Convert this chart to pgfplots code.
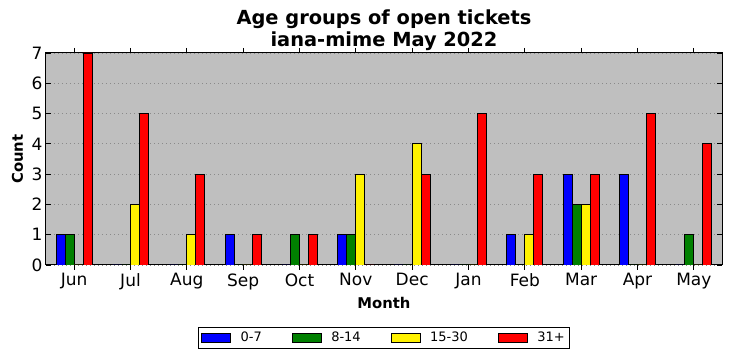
\documentclass[border=0pt]{standalone}
\usepackage{fontspec}
\setmainfont{DejaVu Sans}
\usepackage{pgfplots}
\pgfplotsset{compat=1.18}
\definecolor{bgc}{HTML}{BFBFBF}
\definecolor{gridc}{HTML}{8A8A8A}
\begin{document}
\begin{tikzpicture}[x=1pt,y=1pt]
\begin{axis}[
  at={(0,0)}, anchor=south west,
  width=676pt, height=212pt, scale only axis,
  xmin=-0.5, xmax=11.5, ymin=0, ymax=7,
  xtick={0,...,11},
  xticklabels={Jun,Jul,Aug,Sep,Oct,Nov,Dec,Jan,Feb,Mar,Apr,May},
  ytick={0,...,7},
  tick align=inside, major tick length=5pt,
  tick style={black, line width=0.8pt},
  axis line style={black, line width=1pt},
  axis background/.style={fill=bgc},
  ymajorgrids,
  major grid style={gridc, line width=0.8pt, dash pattern=on 1pt off 3pt},
  /pgf/number format/assume math mode=true,
  ticklabel style={font=\fontsize{17}{20}\selectfont},
  ybar=0pt, bar width=9pt,
  legend columns=4,
  legend style={at={(axis description cs:0.5,-0.344)}, anchor=center,
    draw=black, line width=0.8pt, font=\fontsize{13}{15}\selectfont,
    /tikz/every even column/.append style={column sep=28pt},
    inner xsep=3pt, inner ysep=3pt},
  legend image code/.code={\draw[#1, line width=0.8pt] (0pt,-4.5pt) rectangle (29pt,4.5pt); \path[draw=none,fill=none] (0pt,0pt) -- (37pt,0pt);},
  every axis plot/.append style={draw=black, line width=0.9pt},
]
\addplot[fill=blue] coordinates {(0,1) (1,0) (2,0) (3,1) (4,0) (5,1) (6,0) (7,0) (8,1) (9,3) (10,3) (11,0)};
\addplot[fill={rgb,255:red,0;green,128;blue,0}] coordinates {(0,1) (1,0) (2,0) (3,0) (4,1) (5,1) (6,0) (7,0) (8,0) (9,2) (10,0) (11,1)};
\addplot[fill=yellow] coordinates {(0,0) (1,2) (2,1) (3,0) (4,0) (5,3) (6,4) (7,0) (8,1) (9,2) (10,0) (11,0)};
\addplot[fill=red] coordinates {(0,7) (1,5) (2,3) (3,1) (4,1) (5,0) (6,3) (7,5) (8,3) (9,3) (10,5) (11,4)};
\legend{0-7,8-14,15-30,31+}
\end{axis}
\node[anchor=base, font=\bfseries\fontsize{19.4}{23}\selectfont] at (338,240) {Age groups of open tickets};
\node[anchor=base, font=\bfseries\fontsize{19.4}{23}\selectfont] at (338,218) {iana-mime May 2022};
\node[anchor=base, font=\bfseries\fontsize{14.8}{17}\selectfont] at (338,-44) {Month};
\node[anchor=base, rotate=90, font=\bfseries\fontsize{14.8}{17}\selectfont] at (-23,106) {Count};
\pgfresetboundingbox
\path (-46,-96) rectangle (686,265);
\end{tikzpicture}
\end{document}
